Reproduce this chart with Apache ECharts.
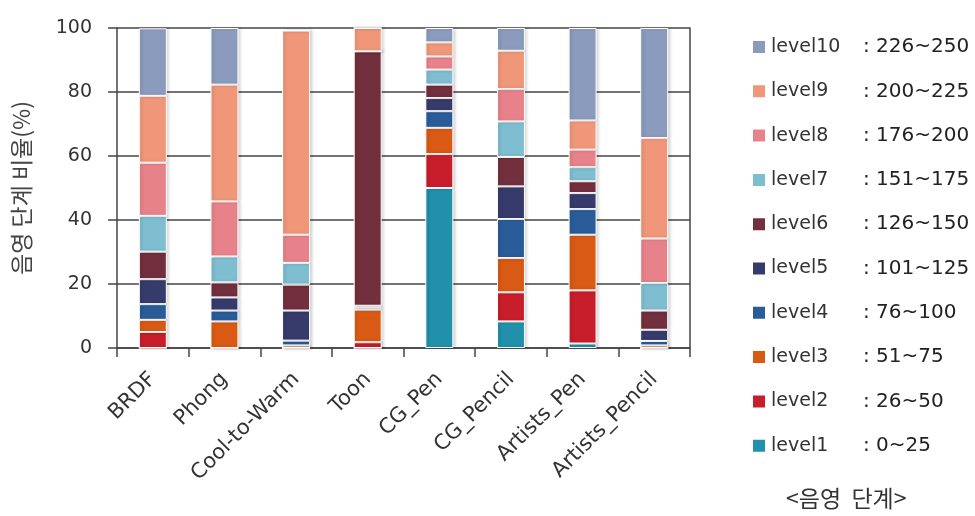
<!DOCTYPE html>
<html>
<head>
<meta charset="utf-8">
<script src="https://cdn.jsdelivr.net/npm/echarts@6/dist/echarts.min.js"></script>
<style>
  html, body { margin: 0; padding: 0; background: #fff; }
  #chart { width: 975px; height: 516px; }
</style>
</head>
<body>
<div id="chart"></div>
<script>
// Rendering styles on the x axis
const categories = ['BRDF', 'Phong', 'Cool-to-Warm', 'Toon', 'CG_Pen', 'CG_Pencil', 'Artists_Pen', 'Artists_Pencil'];

// Share (%) of pixels in each shading level, per rendering style
const level1  = [0,    0,    0,    0,    50.0, 8.3,  1.4,  0];
const level2  = [5.0,  0,    0,    1.8,  10.6, 9.1,  16.6, 0];
const level3  = [3.8,  8.3,  0.8,  10.2, 8.2,  10.7, 17.4, 0.8];
const level4  = [4.9,  3.4,  1.5,  0.6,  5.2,  12.2, 8.0,  1.4];
const level5  = [7.8,  4.1,  9.4,  0.6,  4.1,  10.2, 5.0,  3.5];
const level6  = [8.6,  4.7,  8.1,  79.5, 4.2,  9.2,  3.7,  6.0];
const level7  = [11.2, 8.1,  6.8,  0,    4.7,  11.1, 4.4,  8.6];
const level8  = [16.6, 17.2, 8.8,  0,    4.1,  10.1, 5.5,  13.9];
const level9  = [20.9, 36.5, 63.8, 7.3,  4.4,  12.0, 9.1,  31.4];
const level10 = [21.1, 17.7, 0,    0,    4.5,  7.1,  28.9, 34.4];

const levelNames = ['level1', 'level2', 'level3', 'level4', 'level5', 'level6', 'level7', 'level8', 'level9', 'level10'];
const levelRanges = ['0~25', '26~50', '51~75', '76~100', '101~125', '126~150', '151~175', '176~200', '200~225', '226~250'];
const levelColors = ['#2190aa', '#c81d2a', '#d95a14', '#2a5c9a', '#363b6b', '#722f3e', '#7fbdd0', '#e8828a', '#f0977a', '#8a9bbd'];
const levelData = [level1, level2, level3, level4, level5, level6, level7, level8, level9, level10];

const yTicks = [0, 20, 40, 60, 80, 100];

const latin = '"DejaVu Sans", Verdana, sans-serif';
const korean = '"Noto Sans CJK KR", sans-serif';

const chart = echarts.init(document.getElementById('chart'), null, { renderer: 'canvas' });

const series = levelNames.map((name, i) => ({
  name: name,
  type: 'bar',
  stack: 'total',
  barWidth: 28,
  data: levelData[i],
  itemStyle: {
    color: levelColors[i],
    borderColor: '#ffffff',
    borderWidth: 1,
    shadowColor: 'rgba(0,0,0,0.18)',
    shadowBlur: 3,
    shadowOffsetX: 2,
    shadowOffsetY: 0
  },
  emphasis: { disabled: true },
  z: 3
}));

chart.setOption({
  animation: false,
  backgroundColor: '#ffffff',
  title: {
    text: '<음영  단계>',
    left: 781,
    top: 482,
    textStyle: { fontFamily: korean, fontSize: 23, fontWeight: 'normal', color: '#333' }
  },
  legend: {
    orient: 'vertical',
    left: 746,
    top: 30,
    itemWidth: 14,
    itemHeight: 14,
    itemGap: 20.3,
    itemTextGap: 8,
    icon: 'rect',
    selectedMode: false,
    data: levelNames.slice().reverse(),
    formatter: function (name) {
      const idx = levelNames.indexOf(name);
      return '{a|' + name + '}{b|: ' + levelRanges[idx] + '}';
    },
    textStyle: {
      fontFamily: latin,
      fontSize: 19,
      color: '#333',
      lineHeight: 24,
      height: 24,
      rich: {
        a: { fontFamily: latin, fontSize: 19, color: '#333', width: 92, height: 24, lineHeight: 24 },
        b: { fontFamily: latin, fontSize: 20, color: '#222', height: 24, lineHeight: 24 }
      }
    }
  },
  grid: { left: 117, right: 285, top: 28, bottom: 168, containLabel: false },
  xAxis: {
    type: 'category',
    data: categories,
    boundaryGap: true,
    axisLine: { show: true, lineStyle: { color: '#444', width: 1.5 } },
    axisTick: { show: true, length: 9, lineStyle: { color: '#444', width: 1.5 } },
    axisLabel: {
      rotate: 45,
      interval: 0,
      margin: 28,
      fontFamily: latin,
      fontSize: 21,
      color: '#333'
    }
  },
  yAxis: [{
    type: 'value',
    min: yTicks[0],
    max: yTicks[yTicks.length - 1],
    interval: 20,
    name: '음영 단계 비율(%)',
    nameLocation: 'middle',
    nameRotate: 90,
    nameGap: 84,
    nameTextStyle: { fontFamily: korean, fontSize: 23, color: '#444' },
    axisLine: { show: true, lineStyle: { color: '#444', width: 1.5 } },
    axisTick: { show: true, length: 9, lineStyle: { color: '#444', width: 1.5 } },
    axisLabel: { margin: 25, fontFamily: latin, fontSize: 19, color: '#333' },
    splitLine: { show: true, lineStyle: { color: '#444', width: 1.5 } }
  }, {
    type: 'value',
    position: 'right',
    min: yTicks[0],
    max: yTicks[yTicks.length - 1],
    interval: 20,
    axisLine: { show: true, lineStyle: { color: '#444', width: 1.5 } },
    axisTick: { show: false },
    axisLabel: { show: false },
    splitLine: { show: false }
  }],
  series: series
});
</script>
</body>
</html>
